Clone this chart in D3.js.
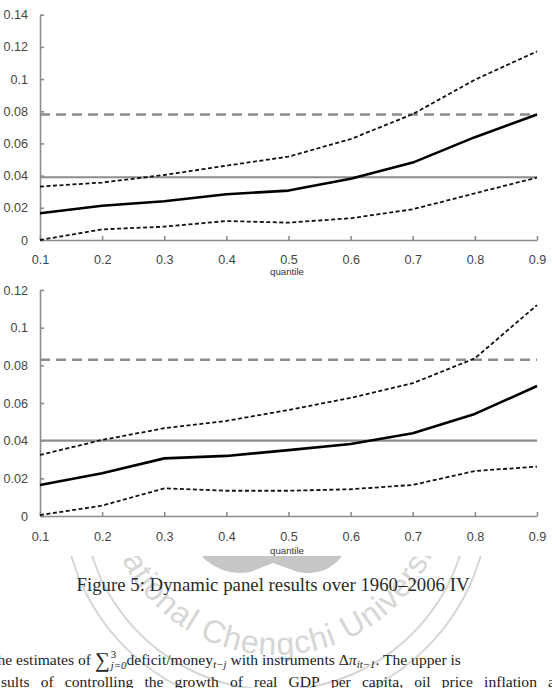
<!DOCTYPE html>
<html>
<head>
<meta charset="utf-8">
<script src="https://cdn.jsdelivr.net/npm/d3@7"></script>
<style>
  html, body { margin: 0; padding: 0; background: #fff; }
  svg { display: block; }
</style>
</head>
<body>
<div id="chart"></div>
<script>
"use strict";

// quantiles on the x axis
const quantiles = [0.1, 0.2, 0.3, 0.4, 0.5, 0.6, 0.7, 0.8, 0.9];

// upper panel
const upperEstimate = [0.0166, 0.0213, 0.0241, 0.0284, 0.0307, 0.038, 0.0481, 0.0639, 0.078];
const upperHigh = [0.0332, 0.0357, 0.0404, 0.0462, 0.0518, 0.0627, 0.0782, 0.0996, 0.1172];
const upperLow = [0.0, 0.0066, 0.0083, 0.0118, 0.0108, 0.0135, 0.0191, 0.029, 0.0388];
const upperRefs = [0.039, 0.078]; // solid grey, dashed grey
const upperYTicks = [0, 0.02, 0.04, 0.06, 0.08, 0.1, 0.12, 0.14];

// lower panel
const lowerEstimate = [0.0165, 0.0227, 0.0306, 0.0319, 0.035, 0.0382, 0.0439, 0.0542, 0.069];
const lowerHigh = [0.0324, 0.0404, 0.0466, 0.0505, 0.0563, 0.0627, 0.0705, 0.0837, 0.112];
const lowerLow = [0.0005, 0.0055, 0.0147, 0.0134, 0.0134, 0.0142, 0.0165, 0.0239, 0.0262];
const lowerRefs = [0.04, 0.083];
const lowerYTicks = [0, 0.02, 0.04, 0.06, 0.08, 0.1, 0.12];

const xLabel = "quantile";
const caption = "Figure 5: Dynamic panel results over 1960\u20132006 IV";
const watermarkText = "National Chengchi University";
const noteLine2 = "sults of controlling the growth of real GDP per capita, oil price inflation a";

const WIDTH = 552;
const HEIGHT = 688;
const AXIS_GREY = "#8c8c8c";
const SANS = "'Liberation Sans', Arial, sans-serif";
const SERIF = "'Liberation Serif', 'DejaVu Serif', serif";

function _main() {
  const svg = d3.select("#chart").append("svg").attr("width", WIDTH).attr("height", HEIGHT);
  svg.append("rect").attr("width", WIDTH).attr("height", HEIGHT).attr("fill", "#fff");

  drawWatermark(svg);

  drawPanel(svg, {
    frame: [0, 277], top: 14.7, bottom: 240, labelPad: 15, xLabelY: 275,
    yTicks: upperYTicks, refs: upperRefs,
    est: upperEstimate, high: upperHigh, low: upperLow,
  });
  drawPanel(svg, {
    frame: [281, 556], top: 290, bottom: 516, labelPad: 16, xLabelY: 554,
    yTicks: lowerYTicks, refs: lowerRefs,
    est: lowerEstimate, high: lowerHigh, low: lowerLow,
  });

  drawText(svg);
}

function drawWatermark(svg) {
  const cx = 276, cy = 483;
  const g = svg.append("g");

  // logo shape in the middle (mostly hidden behind the plots)
  g.append("path")
    .attr("d", "M178,520 Q205,580 250,572 L273,563 L298,572 Q343,580 358,520 Z")
    .attr("fill", "#c6c6c6");

  // rings
  [213, 193].forEach((r) => {
    g.append("circle")
      .attr("cx", cx).attr("cy", cy + 14).attr("r", r)
      .attr("fill", "none").attr("stroke", "#d6d6d6").attr("stroke-width", 2);
  });

  // text around the lower half
  const r = 172;
  const a0 = (240 * Math.PI) / 180, a1 = (-60 * Math.PI) / 180;
  const p0 = [cx + r * Math.cos(a0), cy + r * Math.sin(a0)];
  const p1 = [cx + r * Math.cos(a1), cy + r * Math.sin(a1)];
  g.append("path")
    .attr("id", "wm-arc")
    .attr("d", `M${p0[0]},${p0[1]} A${r},${r} 0 1 0 ${p1[0]},${p1[1]}`)
    .attr("fill", "none");
  g.append("text")
    .attr("font-family", SANS)
    .attr("font-size", 32)
    .attr("letter-spacing", 1)
    .attr("fill", "#d6d6d6")
    .append("textPath")
    .attr("href", "#wm-arc")
    .attr("startOffset", "50.5%")
    .attr("text-anchor", "middle")
    .text(watermarkText);
}

function drawPanel(svg, p) {
  const xScale = d3.scaleLinear().domain([0.1, 0.9]).range([40, 537]);
  const yScale = d3.scaleLinear().domain([0, d3.max(p.yTicks)]).range([p.bottom, p.top]);
  const g = svg.append("g");

  // white image frame hides the watermark
  g.append("rect")
    .attr("x", 0).attr("y", p.frame[0])
    .attr("width", WIDTH).attr("height", p.frame[1] - p.frame[0])
    .attr("fill", "#fff");

  // horizontal reference lines
  g.append("line")
    .attr("x1", xScale(0.1)).attr("x2", xScale(0.9))
    .attr("y1", yScale(p.refs[0])).attr("y2", yScale(p.refs[0]))
    .attr("stroke", AXIS_GREY).attr("stroke-width", 2.2);
  g.append("line")
    .attr("x1", xScale(0.1)).attr("x2", xScale(0.9))
    .attr("y1", yScale(p.refs[1])).attr("y2", yScale(p.refs[1]))
    .attr("stroke", AXIS_GREY).attr("stroke-width", 2.4)
    .attr("stroke-dasharray", "10,6");

  // axes
  const xAxis = g.append("g")
    .attr("transform", `translate(0,${p.bottom})`)
    .call(d3.axisBottom(xScale).tickValues(quantiles).tickFormat(d3.format("~g"))
      .tickSizeInner(-4).tickSizeOuter(0).tickPadding(p.labelPad));
  const yAxis = g.append("g")
    .attr("transform", `translate(${xScale(0.1)},0)`)
    .call(d3.axisLeft(yScale).tickValues(p.yTicks).tickFormat(d3.format("~g"))
      .tickSizeInner(-4).tickSizeOuter(0).tickPadding(12));
  [xAxis, yAxis].forEach((ax) => {
    ax.attr("font-family", SANS).attr("font-size", 12.6);
    ax.selectAll("path, line").attr("stroke", AXIS_GREY).attr("stroke-width", 1.6);
    ax.selectAll("text").attr("fill", "#444");
  });

  g.append("text")
    .attr("x", 287).attr("y", p.xLabelY)
    .attr("text-anchor", "middle")
    .attr("font-family", SANS).attr("font-size", 9.7)
    .attr("fill", "#333")
    .text(xLabel);

  // estimate and bands
  const line = d3.line()
    .x((d, i) => xScale(quantiles[i]))
    .y((d) => yScale(d));
  [p.high, p.low].forEach((series) => {
    g.append("path").datum(series).attr("d", line)
      .attr("fill", "none").attr("stroke", "#111")
      .attr("stroke-width", 1.8).attr("stroke-dasharray", "4,2.5");
  });
  g.append("path").datum(p.est).attr("d", line)
    .attr("fill", "none").attr("stroke", "#000")
    .attr("stroke-width", 2.6).attr("stroke-linejoin", "round");
}

function drawText(svg) {
  svg.append("text")
    .attr("x", 273).attr("y", 591)
    .attr("text-anchor", "middle")
    .attr("font-family", SERIF).attr("font-size", 18.5)
    .attr("fill", "#2a2a2a")
    .attr("textLength", 393).attr("lengthAdjust", "spacingAndGlyphs")
    .text(caption);

  // first line of the note, with inline math
  const parts = [
    { t: "The estimates of ", s: 18 },
    { t: "\u2211", s: 24, dy: 2, mark: true },
    { t: "3", s: 12.5, dy: -8, keep: true },
    { t: "j=0", s: 12.5, dy: 5, it: true },
    { t: "deficit/money", s: 18 },
    { t: "t\u2212j", s: 12.5, dy: 4, it: true },
    { t: " with instruments \u0394", s: 18 },
    { t: "\u03c0", s: 18, it: true },
    { t: "it\u22121", s: 12.5, dy: 4, it: true },
    { t: ". The upper is", s: 18 },
  ];
  const line1 = svg.append("g").attr("font-family", SERIF).attr("fill", "#222");
  let x = 0, held = 0, markX = 0;
  parts.forEach((part) => {
    const el = line1.append("text")
      .attr("x", x).attr("y", part.dy || 0)
      .attr("font-size", part.s)
      .attr("font-style", part.it ? "italic" : "normal")
      .style("white-space", "pre")
      .text(part.t);
    const w = el.node().getComputedTextLength();
    if (part.mark) markX = x;
    if (part.keep) {
      held = w;
    } else {
      x += Math.max(w, held) + (part.mark ? 1 : 0);
      held = 0;
    }
  });
  const k = (461 - 95) / (x - markX);
  line1.attr("transform", `translate(${95 - markX * k},665) scale(${k})`);

  // second line, justified word by word to the page edge
  const words = noteLine2.split(" ");
  const line2 = svg.append("g")
    .attr("font-family", SERIF).attr("font-size", 18 * k)
    .attr("fill", "#222");
  const nodes = words.map((w) => line2.append("text").attr("y", 687).text(w));
  const widths = nodes.map((n) => n.node().getComputedTextLength());
  const gap = (555 - 1 - d3.sum(widths)) / (words.length - 1);
  let wx = 1;
  nodes.forEach((n, i) => {
    n.attr("x", wx);
    wx += widths[i] + gap;
  });
}

_main();
</script>
</body>
</html>
